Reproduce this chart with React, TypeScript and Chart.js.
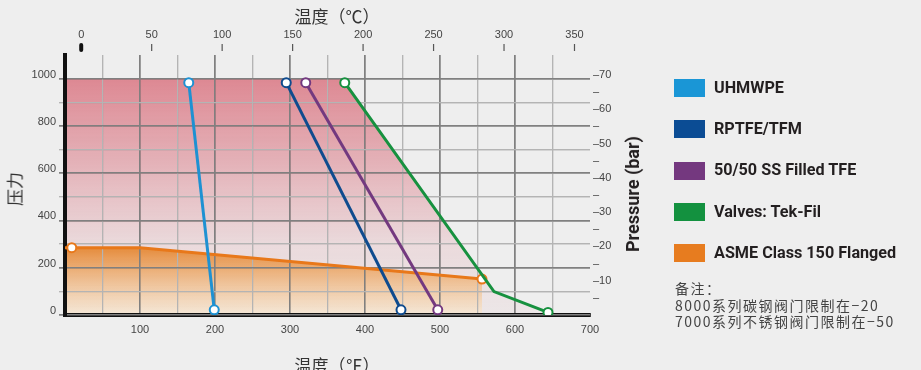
import React, { useEffect, useRef } from 'react';
import { Chart, registerables } from 'chart.js';

Chart.register(...registerables);

// ---- data (°F, psi) ----
const UHMWPE = [{ x: 165, y: 983 }, { x: 199, y: 22 }];
const RPTFE_TFM = [{ x: 295, y: 983 }, { x: 448, y: 22 }];
const SS_FILLED_TFE = [{ x: 321, y: 983 }, { x: 497, y: 22 }];
const TEK_FIL = [{ x: 373, y: 983 }, { x: 572, y: 99 }, { x: 644, y: 11 }];
const TEK_FIL_MARKERS = [4.5, 0, 4.5];
const ASME_150 = [{ x: 0, y: 285 }, { x: 9, y: 285 }, { x: 100, y: 285 }, { x: 556, y: 152 }];
const ASME_MARKERS = [0, 4.5, 0, 4.5];
const RATED_AREA = [{ x: 0, y: 1000 }, { x: 369, y: 1000 }, { x: 572, y: 99 }, { x: 644, y: 11 }];

// ---- ticks ----
const F_TICKS = [0, 50, 100, 150, 200, 250, 300, 350, 400, 450, 500, 550, 600, 650, 700];
const C_TICKS = [0, 50, 100, 150, 200, 250, 300, 350];
const PSI_TICKS = [0, 100, 200, 300, 400, 500, 600, 700, 800, 900, 1000];
const BAR_TICKS = [5, 10, 15, 20, 25, 30, 35, 40, 45, 50, 55, 60, 65, 70];
const PSI_PER_BAR = 14.5038;

const LEGEND = [
  { label: 'UHMWPE', color: '#1a96d6' },
  { label: 'RPTFE/TFM', color: '#0b4c94' },
  { label: '50/50 SS Filled TFE', color: '#74387f' },
  { label: 'Valves: Tek-Fil', color: '#13913f' },
  { label: 'ASME Class 150 Flanged', color: '#e77c1f' },
];
const NOTES = ['备注：', '8000系列碳钢阀门限制在−20', '7000系列不锈钢阀门限制在−50'];

const tickFont = { family: '"Liberation Sans", Arial, sans-serif', size: 11 };
const tickColor = '#444';
const MAJOR = '#808080';
const MINOR = '#b4b4b4';

function psiGradient(chart: any, stops: [number, string][]) {
  const { ctx, chartArea, scales } = chart;
  if (!chartArea) return 'transparent';
  const y = scales.y;
  const y0 = y.getPixelForValue(0);
  const y1 = y.getPixelForValue(1000);
  const g = ctx.createLinearGradient(0, y0, 0, y1);
  stops.forEach(([v, c]) => g.addColorStop(v / 1000, c));
  return g;
}

const topMarks = {
  id: 'topMarks',
  afterDraw(chart: any) {
    const s = chart.scales.xTop;
    const ctx = chart.ctx;
    ctx.save();
    C_TICKS.forEach((v) => {
      const px = s.getPixelForValue(v);
      ctx.beginPath();
      if (v === 0) {
        ctx.strokeStyle = '#111';
        ctx.lineWidth = 4;
        ctx.lineCap = 'round';
        ctx.moveTo(px, s.bottom - 10);
        ctx.lineTo(px, s.bottom - 5);
      } else {
        ctx.strokeStyle = '#555';
        ctx.lineWidth = 1.2;
        ctx.lineCap = 'butt';
        ctx.moveTo(px, s.bottom - 11);
        ctx.lineTo(px, s.bottom - 4);
      }
      ctx.stroke();
    });
    ctx.restore();
  },
};

// redraw the grid (and axis lines) above the area fills, below the lines
const gridOverFill = {
  id: 'gridOverFill',
  beforeDatasetsDraw(chart: any) {
    const area = chart.chartArea;
    ['x', 'y'].forEach((id) => {
      const s = chart.scales[id];
      s.drawGrid(area);
      s.drawBorder();
    });
  },
};

function lineDs(label: string, data: any[], color: string, radius: any = 4.5) {
  return {
    label,
    data,
    xAxisID: 'x',
    yAxisID: 'y',
    borderColor: color,
    borderWidth: 3,
    pointRadius: radius,
    pointBackgroundColor: '#ffffff',
    pointBorderColor: color,
    pointBorderWidth: 2,
    fill: false,
    tension: 0,
  };
}

export default function App() {
  const ref = useRef<HTMLCanvasElement>(null);

  useEffect(() => {
    if (!ref.current) return;
    const chart = new Chart(ref.current, {
      type: 'line',
      data: {
        datasets: [
          lineDs('UHMWPE', UHMWPE, '#1e91d2'),
          lineDs('RPTFE/TFM', RPTFE_TFM, '#0f4b8e'),
          lineDs('50/50 SS Filled TFE', SS_FILLED_TFE, '#73397f'),
          lineDs('Valves: Tek-Fil', TEK_FIL, '#17913f', TEK_FIL_MARKERS),
          {
            ...lineDs('ASME Class 150 Flanged', ASME_150, '#e8781a', ASME_MARKERS),
            fill: 'origin',
            backgroundColor: (c: any) =>
              psiGradient(c.chart, [
                [0, 'rgba(250,230,200,0.55)'],
                [285, 'rgba(228,120,20,0.8)'],
              ]),
          },
          {
            label: 'rated',
            data: RATED_AREA,
            xAxisID: 'x',
            yAxisID: 'y',
            borderWidth: 0,
            borderColor: 'transparent',
            pointRadius: 0,
            fill: 'origin',
            backgroundColor: (c: any) =>
              psiGradient(c.chart, [
                [0, 'rgba(211,74,91,0.04)'],
                [300, 'rgba(211,74,91,0.12)'],
                [1000, 'rgba(211,74,91,0.62)'],
              ]),
          },
        ],
      },
      options: {
        responsive: false,
        animation: false,
        devicePixelRatio: 1,
        layout: { padding: 0 },
        plugins: {
          legend: { display: false },
          tooltip: { enabled: false },
          title: { display: false },
          filler: { drawTime: 'beforeDatasetsDraw' },
        },
        scales: {
          x: {
            type: 'linear',
            position: 'bottom',
            min: 0,
            max: 700,
            afterBuildTicks: (s: any) => { s.ticks = F_TICKS.map((v) => ({ value: v })); },
            afterFit: (s: any) => { s.height = 55; },
            ticks: {
              autoSkip: false,
              maxRotation: 0,
              padding: 8,
              font: tickFont,
              color: tickColor,
              callback: (v: any) => (v % 100 === 0 && v > 0 ? String(v) : ''),
            },
            grid: {
              drawTicks: false,
              color: (c: any) => {
                const v = c.tick?.value;
                if (v === 0 || v === 700) return 'transparent';
                return v % 100 === 0 ? MAJOR : MINOR;
              },
              lineWidth: (c: any) => (c.tick?.value % 100 === 0 ? 1.5 : 1.2),
            },
            border: { color: '#111', width: 4 },
          },
          xTop: {
            type: 'linear',
            position: 'top',
            min: -11.5,
            max: 361,
            afterBuildTicks: (s: any) => { s.ticks = C_TICKS.map((v) => ({ value: v })); },
            afterFit: (s: any) => { s.height = 55; },
            ticks: { autoSkip: false, maxRotation: 0, padding: 13, font: tickFont, color: tickColor },
            grid: { display: false, drawTicks: false },
            border: { display: false },
          },
          y: {
            type: 'linear',
            position: 'left',
            min: 0,
            max: 1100,
            afterBuildTicks: (s: any) => { s.ticks = PSI_TICKS.map((v) => ({ value: v })); },
            afterFit: (s: any) => { s.width = 65; },
            ticks: {
              autoSkip: false,
              padding: 3,
              labelOffset: -4,
              font: tickFont,
              color: tickColor,
              callback: (v: any) => (v % 200 === 0 ? String(v) : ''),
            },
            grid: {
              tickLength: 6,
              color: (c: any) => (c.tick?.value % 200 === 0 ? MAJOR : MINOR),
              tickColor: (c: any) => (c.tick?.value % 200 === 0 ? MAJOR : MINOR),
              lineWidth: (c: any) => (c.tick?.value % 200 === 0 ? 1.5 : 1.2),
            },
            border: { color: '#111', width: 4 },
          },
          yBar: {
            type: 'linear',
            position: 'right',
            min: 0,
            max: 1100 / PSI_PER_BAR,
            afterBuildTicks: (s: any) => { s.ticks = BAR_TICKS.map((v) => ({ value: v })); },
            afterFit: (s: any) => { s.width = 331; },
            ticks: {
              autoSkip: false,
              padding: 3,
              font: tickFont,
              color: tickColor,
              callback: (v: any) => (v % 10 === 0 ? '–' + v : '–'),
            },
            grid: { display: false, drawTicks: false },
            border: { display: false },
          },
        },
      } as any,
      plugins: [topMarks, gridOverFill],
    });
    return () => chart.destroy();
  }, []);

  const cjk = '"Noto Sans CJK SC", sans-serif';
  const center: React.CSSProperties = {
    position: 'absolute',
    transform: 'translate(-50%, -50%)',
    whiteSpace: 'nowrap',
    lineHeight: 1,
  };

  return (
    <div style={{ position: 'fixed', left: 0, top: 0, width: 921, height: 370, background: '#eeeeee', overflow: 'hidden' }}>
      <canvas ref={ref} width={921} height={370} style={{ position: 'absolute', left: 0, top: 0, display: 'block' }} />
      <div style={{ ...center, left: 337, top: 15, fontFamily: cjk, fontSize: 17, color: '#333' }}>温度（℃）</div>
      <div style={{ ...center, left: 337, top: 364, fontFamily: cjk, fontSize: 17, color: '#333' }}>温度（℉）</div>
      <div style={{ ...center, left: 14, top: 189, fontFamily: cjk, fontSize: 17, color: '#333', transform: 'translate(-50%, -50%) rotate(-90deg)' }}>压力</div>
      <div style={{ ...center, left: 633, top: 194, fontFamily: 'Roboto, sans-serif', fontWeight: 700, fontSize: 18, color: '#231f20', transform: 'translate(-50%, -50%) rotate(-90deg)' }}>Pressure (bar)</div>
      {LEGEND.map((it, i) => (
        <div key={it.label} style={{ position: 'absolute', left: 674, top: 79 + i * 41.3, height: 18, display: 'flex', alignItems: 'center' }}>
          <div style={{ width: 31, height: 18, background: it.color }} />
          <div style={{ marginLeft: 9, fontFamily: 'Roboto, sans-serif', fontWeight: 700, fontSize: 16.2, color: '#231f20', whiteSpace: 'nowrap', lineHeight: 1 }}>{it.label}</div>
        </div>
      ))}
      <div style={{ position: 'absolute', left: 675, top: 280, fontFamily: cjk, fontSize: 14, lineHeight: '16.5px', letterSpacing: 1.5, color: '#444' }}>
        {NOTES.map((n) => (
          <div key={n} style={{ whiteSpace: 'nowrap' }}>{n}</div>
        ))}
      </div>
    </div>
  );
}
